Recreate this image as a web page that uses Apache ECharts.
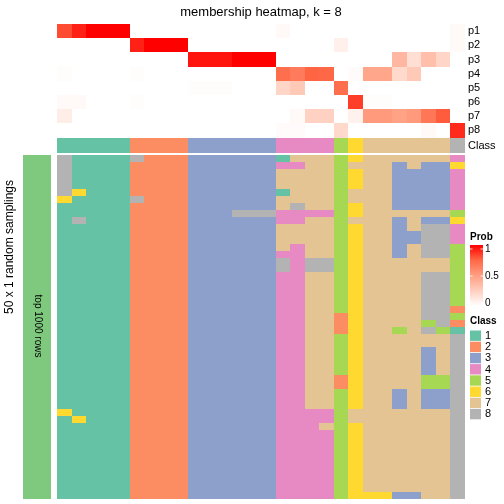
<!DOCTYPE html>
<html><head><meta charset="utf-8">
<script src="https://cdn.jsdelivr.net/npm/echarts@6/dist/echarts.min.js"></script>
<style>html,body{margin:0;padding:0;background:#fff}#c{width:504px;height:504px}</style>
</head><body><div id="c"></div><script>
// ---- data ----
const columns = ['c1','c2','c3','c4','c5','c6','c7','c8','c9','c10','c11','c12','c13','c14',
  'c15','c16','c17','c18','c19','c20','c21','c22','c23','c24','c25','c26','c27','c28'];
const probLabels = ['p1','p2','p3','p4','p5','p6','p7','p8'];
const p1 = [0.82,0.92,1,1,1, 0,0,0,0, 0,0,0,0,0,0, 0.03,0,0,0, 0,0, 0,0,0,0,0,0, 0.03];
const p2 = [0,0,0,0,0, 0.92,1,1,1, 0,0,0,0,0,0, 0,0,0,0, 0.08,0, 0,0,0,0,0,0, 0.03];
const p3 = [0,0,0,0,0, 0,0,0,0, 0.95,0.95,0.95,1,1,1, 0,0,0,0, 0,0, 0,0,0.37,0.17,0.33,0.22, 0];
const p4 = [0.01,0,0,0,0, 0.01,0,0,0, 0,0,0,0,0,0, 0.72,0.66,0.76,0.75, 0,0.02, 0.46,0.46,0.20,0.28,0,0, 0];
const p5 = [0,0,0,0,0, 0,0,0,0, 0.01,0.01,0.01,0,0,0, 0.22,0.28,0,0, 0.72,0, 0,0,0,0,0,0, 0];
const p6 = [0.03,0.03,0,0,0, 0.01,0,0,0, 0,0,0,0,0,0, 0,0,0,0, 0,0.85, 0.01,0.01,0,0,0,0, 0];
const p7 = [0.09,0,0,0,0, 0,0,0,0, 0,0,0,0,0,0, 0,0.03,0.24,0.24, 0,0.07, 0.52,0.52,0.48,0.52,0.68,0.78, 0];
const p8 = [0,0,0,0,0, 0,0,0,0, 0,0,0,0,0,0, 0.02,0.02,0,0, 0.20,0, 0,0,0,0,0.03,0, 0.90];
const classRow = [1,1,1,1,1, 2,2,2,2, 3,3,3,3,3,3, 4,4,4,4, 5, 6, 7,7,7,7,7,7, 8];
const samplings = [
  '81111 8222 333333 1777 5 6 777777 4',
  '81111 2222 333333 4477 5 7 773733 6',
  '81111 2222 333333 7777 5 6 773333 4',
  '81111 2222 333333 7777 5 6 773333 4',
  '81111 2222 333333 7777 5 6 773333 4',
  '86111 2222 333333 1777 5 7 773333 4',
  '61111 8222 333333 7777 5 7 773333 4',
  '11111 2222 333333 7877 5 6 773333 4',
  '11111 2222 333888 4444 5 6 777777 5',
  '18111 2222 333333 4477 5 7 773733 6',
  '11111 2222 333333 7777 5 6 773788 4',
  '11111 2222 333333 7777 5 6 773388 4',
  '11111 2222 333333 7777 5 6 773388 4',
  '11111 2222 333333 7477 5 6 773788 5',
  '11111 2222 333333 4477 5 6 773788 5',
  '11111 2222 333333 8488 5 6 777777 5',
  '11111 2222 333333 8488 5 6 777777 5',
  '11111 2222 333333 4477 5 6 777788 5',
  '11111 2222 333333 4477 5 6 777788 5',
  '11111 2222 333333 4477 5 6 777788 5',
  '11111 2222 333333 4477 5 6 777788 5',
  '11111 2222 333333 4477 5 6 777788 5',
  '11111 2222 333333 4477 5 6 777788 2',
  '11111 2222 333333 4477 2 6 777788 5',
  '11111 2222 333333 4477 2 6 777758 2',
  '11111 2222 333333 4477 2 6 775785 1',
  '11111 2222 333333 4477 5 6 777777 8',
  '11111 2222 333333 4477 5 6 777777 8',
  '11111 2222 333333 4477 5 6 777737 8',
  '11111 2222 333333 4477 5 6 777737 8',
  '11111 2222 333333 4477 5 6 777737 8',
  '11111 2222 333333 4477 5 6 777737 8',
  '11111 2222 333333 4477 2 6 777755 8',
  '11111 2222 333333 4477 2 6 777755 8',
  '11111 2222 333333 4477 5 6 773733 8',
  '11111 2222 333333 4477 5 6 773733 8',
  '11111 2222 333333 4477 5 6 773733 8',
  '61111 2222 333333 4444 5 7 777777 8',
  '16111 2222 333333 4444 5 7 777777 8',
  '11111 2222 333333 4447 5 6 777777 8',
  '11111 2222 333333 4444 5 6 777777 8',
  '11111 2222 333333 4444 5 6 777777 8',
  '11111 2222 333333 4444 5 6 777777 8',
  '11111 2222 333333 4444 5 6 777777 8',
  '11111 2222 333333 4444 5 6 777777 8',
  '11111 2222 333333 4444 5 6 777777 8',
  '11111 2222 333333 4444 5 6 777777 8',
  '11111 2222 333333 4444 5 6 777777 8',
  '11111 2222 333333 4444 5 6 777777 8',
  '11111 2222 333333 4444 5 6 663377 8'
];
const classLabels = ['1','2','3','4','5','6','7','8'];
const classColors = ['#66C2A5','#FC8D62','#8DA0CB','#E78AC3','#A6D854','#FFD92F','#E5C494','#B3B3B3'];
const probTicks = ['1','0.5','0'];
const probColors = ['#FFFFFF','#FFCFBF','#FF9E81','#FF6846','#FF0000'];

// ---- build ----
const FONT = '"Liberation Sans", Arial, Helvetica, sans-serif';
const probRows = [p1,p2,p3,p4,p5,p6,p7,p8];
const probData = [];
probRows.forEach((row, r) => row.forEach((v, c) => probData.push([c, r, v])));
const classData = classRow.map((v, c) => [c, 0, v]);
const sampData = [];
const rowNames = [];
samplings.forEach((s, r) => {
  rowNames.push('r' + r);
  s.replace(/ /g, '').split('').forEach((ch, c) => sampData.push([c, r, +ch]));
});

const L = 57, W = 408;
const grids = [
  {left: L, top: 24, width: W, height: 113.5},
  {left: L, top: 138, width: W, height: 15},
  {left: L, top: 155, width: W, height: 343.5},
  {left: 23, top: 155, width: 28, height: 343.5}
];
const hiddenX = (i, data) => ({type: 'category', gridIndex: i, data: data, show: false});
const lblY = (i, data) => ({
  type: 'category', gridIndex: i, data: data, inverse: true, position: 'right',
  axisLine: {show: false}, axisTick: {show: false}, splitLine: {show: false},
  axisLabel: {fontSize: 11, color: '#000', margin: 3, fontFamily: FONT, interval: 0}
});
function renderCell(params, api) {
  const c = api.coord([api.value(0), api.value(1)]);
  const s = api.size([1, 1]);
  const x0 = Math.round(c[0] - s[0] / 2), x1 = Math.round(c[0] + s[0] / 2);
  const y0 = Math.round(c[1] - s[1] / 2), y1 = Math.round(c[1] + s[1] / 2);
  return {type: 'rect', shape: {x: x0, y: y0, width: x1 - x0, height: y1 - y0},
    style: {fill: api.visual('color')}};
}
const hm = (i, data) => ({
  type: 'custom', xAxisIndex: i, yAxisIndex: i, data: data, renderItem: renderCell,
  encode: {x: 0, y: 1}, silent: true, animation: false
});

const T = (o) => Object.assign({type: 'text', z: 100}, o);
const graphics = [];
graphics.push(T({x: 261, y: 12, style: {text: 'membership heatmap, k = 8',
  font: '13px ' + FONT, fill: '#000', align: 'center', verticalAlign: 'middle',
  textAlign: 'center', textVerticalAlign: 'middle'}}));
graphics.push(T({x: 10, y: 247, rotation: Math.PI / 2, style: {text: '50 x 1 random samplings',
  font: '12px ' + FONT, fill: '#000', align: 'center', verticalAlign: 'middle',
  textAlign: 'center', textVerticalAlign: 'middle'}}));
graphics.push(T({x: 37.5, y: 326, rotation: -Math.PI / 2, style: {text: 'top 1000 rows',
  font: '10px ' + FONT, fill: '#000', align: 'center', verticalAlign: 'middle',
  textAlign: 'center', textVerticalAlign: 'middle'}}));
// Prob legend
graphics.push(T({x: 470, y: 237.5, style: {text: 'Prob', font: 'bold 10px ' + FONT,
  fill: '#000', align: 'left', verticalAlign: 'middle', textAlign: 'left', textVerticalAlign: 'middle'}}));
graphics.push({type: 'rect', z: 100, shape: {x: 470, y: 245, width: 13, height: 61}, style: {
  fill: {type: 'linear', x: 0, y: 0, x2: 0, y2: 1, colorStops: probColors.slice().reverse().map((c, i, a) => ({offset: i / (a.length - 1), color: c}))}}});
const tickY = [249, 276, 303];
probTicks.forEach((t, i) => {
  graphics.push(T({x: 485, y: tickY[i], style: {text: t, font: '10px ' + FONT, fill: '#000',
    align: 'left', verticalAlign: 'middle', textAlign: 'left', textVerticalAlign: 'middle'}}));
  graphics.push({type: 'line', z: 101, shape: {x1: 470, y1: tickY[i], x2: 472.5, y2: tickY[i]}, style: {stroke: 'rgba(255,255,255,0.8)', lineWidth: 1}});
  graphics.push({type: 'line', z: 101, shape: {x1: 480.5, y1: tickY[i], x2: 483, y2: tickY[i]}, style: {stroke: 'rgba(255,255,255,0.8)', lineWidth: 1}});
});
// Class legend
graphics.push(T({x: 470, y: 321, style: {text: 'Class', font: 'bold 10px ' + FONT,
  fill: '#000', align: 'left', verticalAlign: 'middle', textAlign: 'left', textVerticalAlign: 'middle'}}));
classLabels.forEach((t, i) => {
  const y0 = 330.5 + i * 11.2;
  graphics.push({type: 'rect', z: 100, shape: {x: 470, y: y0, width: 11, height: 10.4}, style: {fill: classColors[i]}});
  graphics.push(T({x: 485, y: y0 + 5.4, style: {text: t, font: '11px ' + FONT, fill: '#000',
    align: 'left', verticalAlign: 'middle', textAlign: 'left', textVerticalAlign: 'middle'}}));
});

const option = {
  backgroundColor: '#fff',
  animation: false,
  grid: grids,
  xAxis: [hiddenX(0, columns), hiddenX(1, columns), hiddenX(2, columns), hiddenX(3, ['g'])],
  yAxis: [lblY(0, probLabels), lblY(1, ['Class']),
    {type: 'category', gridIndex: 2, data: rowNames, inverse: true, show: false},
    {type: 'category', gridIndex: 3, data: ['top 1000 rows'], show: false}],
  visualMap: [
    {type: 'continuous', min: 0, max: 1, dimension: 2, seriesIndex: 0, show: false, inRange: {color: probColors}},
    {type: 'piecewise', dimension: 2, seriesIndex: [1, 2], show: false,
      pieces: classColors.map((c, i) => ({value: i + 1, color: c}))},
    {type: 'piecewise', dimension: 2, seriesIndex: 3, show: false, pieces: [{value: 1, color: '#7FC97F'}]}
  ],
  series: [hm(0, probData), hm(1, classData), hm(2, sampData), hm(3, [[0, 0, 1]])],
  graphic: {elements: graphics}
};
const chart = echarts.init(document.getElementById('c'));
chart.setOption(option);
</script></body></html>
